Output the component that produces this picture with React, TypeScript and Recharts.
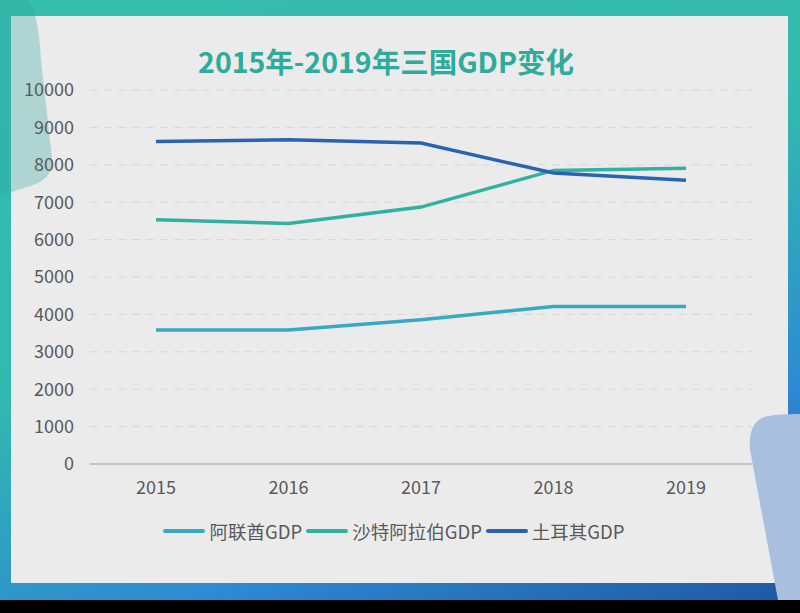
import { LineChart, Line, XAxis, YAxis, CartesianGrid, Legend } from 'recharts';

const years = ['2015', '2016', '2017', '2018', '2019'];
const uaeGdp = [3580, 3580, 3860, 4210, 4210];
const saudiGdp = [6530, 6430, 6870, 7850, 7910];
const turkeyGdp = [8620, 8670, 8580, 7780, 7590];
const yTicks = [0, 1000, 2000, 3000, 4000, 5000, 6000, 7000, 8000, 9000, 10000];

const seriesMeta = [
  { key: 'uae', name: '阿联酋GDP', color: '#38a9c2' },
  { key: 'saudi', name: '沙特阿拉伯GDP', color: '#30b1a1' },
  { key: 'turkey', name: '土耳其GDP', color: '#2864b0' },
];

const chartData = years.map((year, i) => ({
  year,
  uae: uaeGdp[i],
  saudi: saudiGdp[i],
  turkey: turkeyGdp[i],
}));

const FONT = '"Noto Sans CJK SC", "Noto Sans", sans-serif';

const LegendContent = () => (
  <div style={{ display: 'flex', justifyContent: 'center', alignItems: 'center', fontFamily: FONT, paddingLeft: 30 }}>
    {seriesMeta.map(s => (
      <div key={s.key} style={{ display: 'flex', alignItems: 'center', marginRight: 4 }}>
        <span
          style={{
            display: 'inline-block',
            width: 42,
            height: 4,
            borderRadius: 2,
            background: s.color,
            marginRight: 4,
          }}
        />
        <span style={{ fontSize: 18.5, color: '#595959' }}>{s.name}</span>
      </div>
    ))}
  </div>
);

export default function App() {
  return (
    <div style={{ position: 'fixed', left: 0, top: 0, width: 800, height: 613, background: '#000', overflow: 'hidden' }}>
      <div
        style={{
          position: 'absolute',
          left: 0,
          top: 0,
          width: 800,
          height: 600,
          background: 'linear-gradient(160deg, #35bdad 0%, #33b8af 45%, #2d8bd3 75%, #1f58a2 100%)',
        }}
      />
      <div style={{ position: 'absolute', left: 11, top: 16, width: 777, height: 567, background: '#ebebeb' }} />
      <svg width={800} height={613} style={{ position: 'absolute', left: 0, top: 0 }}>
        <path d="M0,0 L28,0 Q38,10 41,60 L52,158 Q54,176 36,184 L0,196 Z" fill="rgba(46,168,158,0.32)" />
        <path d="M762,418 Q770,414 800,414 L800,600 L778,600 L750,450 Q748,425 762,418 Z" fill="#a9bfdf" />
      </svg>
      <div
        style={{
          position: 'absolute',
          left: 0,
          top: 40,
          width: 772,
          textAlign: 'center',
          fontFamily: FONT,
          fontWeight: 700,
          fontSize: 28.5,
          color: '#2eab9b',
        }}
      >
        2015年-2019年三国GDP变化
      </div>
      <div style={{ position: 'absolute', left: 0, top: 0 }}>
        <LineChart width={800} height={613} data={chartData} margin={{ top: 90, right: 48, left: 10, bottom: 93 }}>
          <CartesianGrid vertical={false} stroke="#d8d8d8" strokeDasharray="8 6" />
          <XAxis
            dataKey="year"
            padding={{ left: 66, right: 66 }}
            axisLine={{ stroke: '#c4c4c4', strokeWidth: 2 }}
            tickLine={false}
            tick={{ fill: '#595959', fontSize: 18, fontFamily: FONT }}
            tickMargin={11}
          />
          <YAxis
            width={80}
            domain={[0, 10000]}
            ticks={yTicks}
            axisLine={false}
            tickLine={false}
            tick={{ fill: '#595959', fontSize: 18, fontFamily: FONT }}
            tickMargin={10}
            interval={0}
          />
          <Legend verticalAlign="bottom" content={<LegendContent />} wrapperStyle={{ top: 518 }} />
          {seriesMeta.map(s => (
            <Line
              key={s.key}
              type="linear"
              dataKey={s.key}
              name={s.name}
              stroke={s.color}
              strokeWidth={3.5}
              dot={false}
              isAnimationActive={false}
            />
          ))}
        </LineChart>
      </div>
    </div>
  );
}
